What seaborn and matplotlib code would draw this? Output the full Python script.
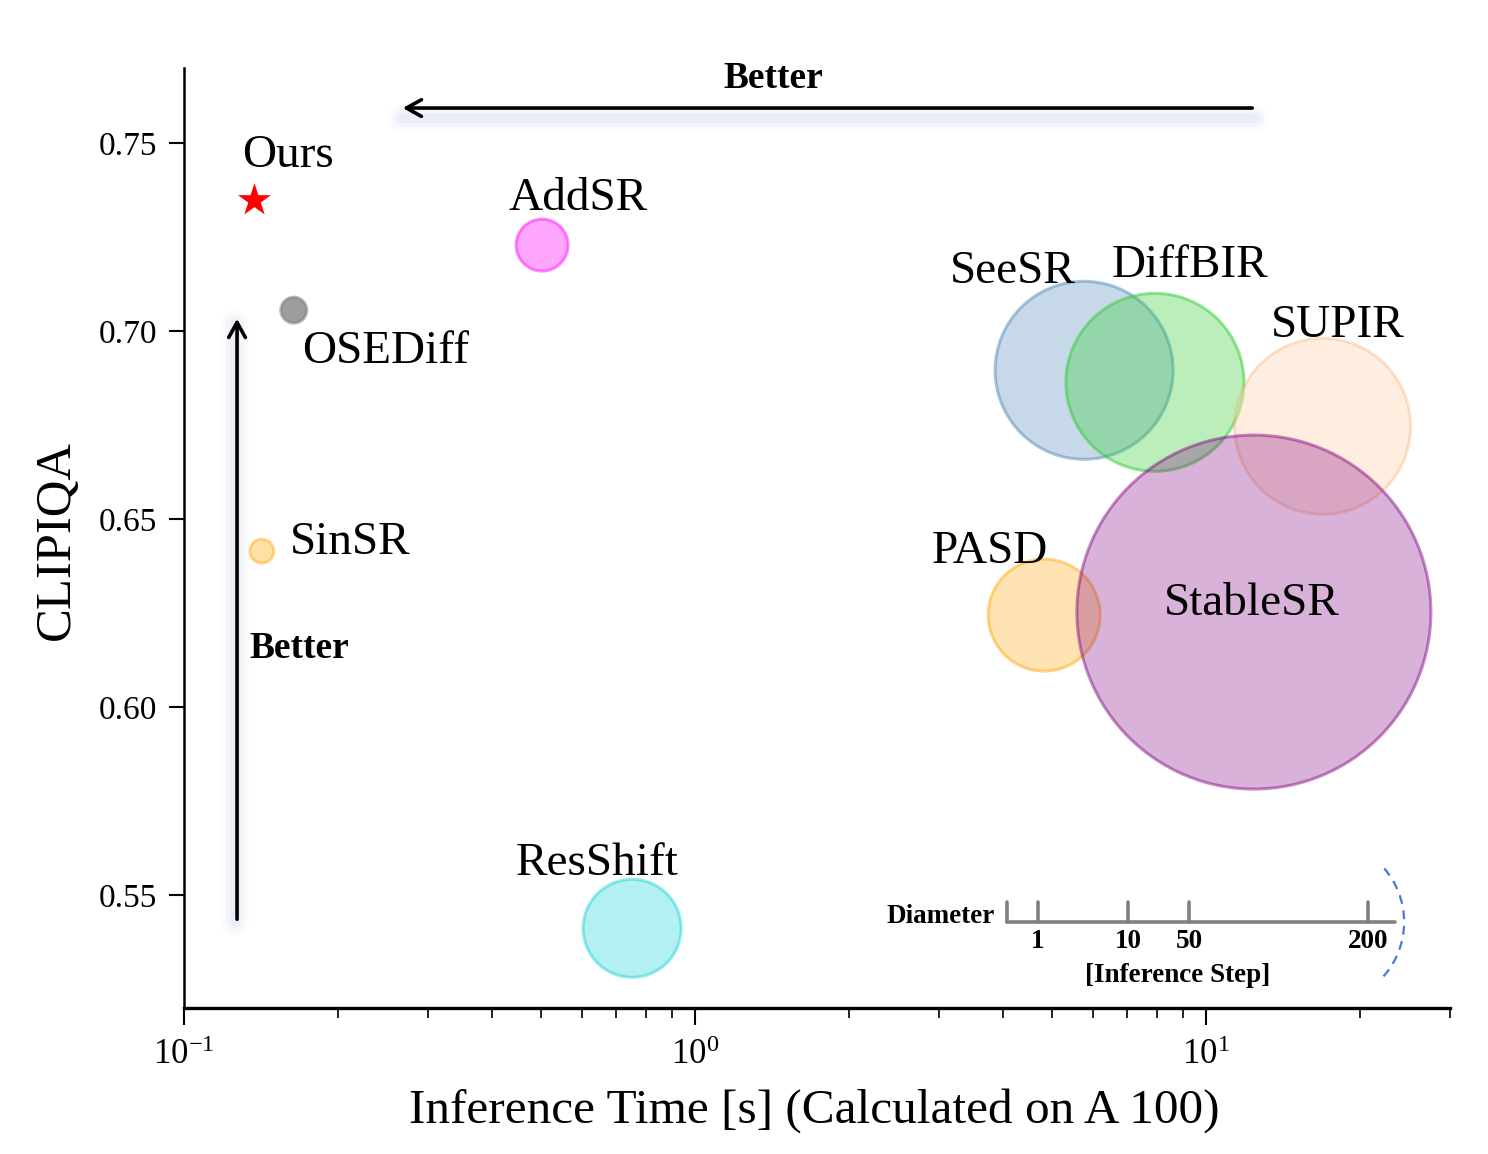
import numpy as np
import pandas as pd
import matplotlib
matplotlib.use("Agg")
import matplotlib.pyplot as plt
import seaborn as sns
from matplotlib.patches import Arc
from matplotlib.colors import to_rgba
from matplotlib.transforms import ScaledTranslation

# ---------------- data ----------------
methods = ["SeeSR", "DiffBIR", "SUPIR", "PASD", "StableSR", "ResShift", "AddSR", "OSEDiff", "SinSR"]
times = [5.77, 7.94, 16.9, 4.82, 12.4, 0.753, 0.502, 0.164, 0.142]
clipiqa = [0.6896, 0.6864, 0.6747, 0.6245, 0.6253, 0.5412, 0.7229, 0.7056, 0.6415]
steps = [50, 50, 50, 20, 200, 15, 4, 1, 1]

ours_name = "Ours"
ours_time = [0.137]
ours_clipiqa = [0.7348]

# label anchor positions (data coords)
label_x = [4.19, 9.30, 18.1, 3.78, 12.3, 0.643, 0.590, 0.2484, 0.2113]
label_y = [0.7168, 0.7184, 0.7024, 0.6423, 0.6285, 0.5593, 0.7362, 0.6955, 0.6449]
ours_label_xy = (0.160, 0.7476)

legend_steps = ["1", "10", "50", "200"]

# ---------------- style ----------------
bubble_diam_px = [178, 178, 176, 112, 354, 98, 52, 26, 24]
face_colors = [("steelblue", 0.30), ("limegreen", 0.33), ("peachpuff", 0.45), ("orange", 0.30),
               ("purple", 0.30), ("darkturquoise", 0.30), ("magenta", 0.35), ("dimgray", 0.65),
               ("orange", 0.35)]
edge_colors = [("steelblue", 0.45), ("limegreen", 0.50), ("sandybrown", 0.30), ("orange", 0.45),
               ("purple", 0.45), ("darkturquoise", 0.40), ("magenta", 0.45), ("gray", 0.55),
               ("orange", 0.40)]

sns.set_theme(style="white")
plt.rcParams["font.family"] = ["Liberation Serif", "DejaVu Serif"]
plt.rcParams["mathtext.fontset"] = "stix"
for k in ["text.color", "axes.labelcolor", "xtick.color", "ytick.color", "axes.edgecolor"]:
    plt.rcParams[k] = "black"

fig = plt.figure(figsize=(14.88, 11.54), dpi=100)
ax = fig.add_axes([184 / 1488, 1 - 1008 / 1154, (1450 - 184) / 1488, (1008 - 68) / 1154])

df = pd.DataFrame({"method": methods, "time": times, "clipiqa": clipiqa, "steps": steps})
px2pt = 72 / 100
sizes = {m: (d * px2pt) ** 2 for m, d in zip(methods, bubble_diam_px)}
palette = {m: c[0] for m, c in zip(methods, face_colors)}

sns.scatterplot(data=df, x="time", y="clipiqa", hue="method", size="method",
                sizes=sizes, palette=palette, legend=False, linewidth=2.2, ax=ax, zorder=3)
coll = ax.collections[0]
coll.set_facecolors([to_rgba(c, a) for c, a in face_colors])
coll.set_edgecolors([to_rgba(c, a) for c, a in edge_colors])
coll.set_alpha(None)

sns.scatterplot(x=ours_time, y=ours_clipiqa, marker="*", s=620, color="red",
                linewidth=0, ax=ax, zorder=5)

ax.set_xscale("log")
ax.set_xlim(0.1, 30)
ax.set_ylim(0.52, 0.77)
ax.set_yticks([0.55, 0.60, 0.65, 0.70, 0.75])
ax.set_yticklabels(["0.55", "0.60", "0.65", "0.70", "0.75"])

for s in ["top", "right"]:
    ax.spines[s].set_visible(False)
ax.spines["bottom"].set_linewidth(2.4)
ax.spines["left"].set_linewidth(1.8)

ax.tick_params(axis="y", which="major", direction="out", length=11, width=1.5,
               labelsize=24, pad=8, left=True, colors="black")
ax.tick_params(axis="x", which="major", direction="out", length=12, width=1.5,
               labelsize=25, pad=10, bottom=True, colors="black")
ax.tick_params(axis="x", which="minor", direction="out", length=7, width=1.2, bottom=True)

ax.set_xlabel("Inference Time [s] (Calculated on A 100)", fontsize=35.5)
ax.set_ylabel("CLIPIQA", fontsize=36.5)
ax.xaxis.label.set_va("center")
ax.yaxis.label.set_va("center")
ax.xaxis.set_label_coords(0.498, -0.109)
ax.yaxis.set_label_coords(-0.1003, 0.498)

# labels (shifted a few pixels down to match visual centring)
down = ax.transData + ScaledTranslation(0, -4 / 100, fig.dpi_scale_trans)
for m, lx, ly in zip(methods, label_x, label_y):
    ax.text(lx, ly, m, fontsize=34, ha="center", va="center", zorder=6, transform=down)
ax.text(ours_label_xy[0], ours_label_xy[1], ours_name, fontsize=34, ha="center", va="center",
        zorder=6, transform=down)

# "Better" arrows with soft glow
glow = "#c3cff0"
T = ax.transAxes
for lw, a in [(20, 0.08), (13, 0.12), (7, 0.16)]:
    ax.plot([0.172, 0.846], [0.947, 0.947], transform=T, color=glow, lw=lw, alpha=a,
            solid_capstyle="round", zorder=1)
    ax.plot([0.0405, 0.0405], [0.0915, 0.728], transform=T, color=glow, lw=lw, alpha=a,
            solid_capstyle="round", zorder=1)
ax.annotate("", xy=(0.1706, 0.9574), xytext=(0.846, 0.9574), xycoords=T, textcoords=T,
            arrowprops=dict(arrowstyle="->,head_length=0.9,head_width=0.5", lw=2.6, color="black"),
            zorder=4)
ax.annotate("", xy=(0.0419, 0.7362), xytext=(0.0419, 0.0915), xycoords=T, textcoords=T,
            arrowprops=dict(arrowstyle="->,head_length=0.9,head_width=0.5", lw=2.6, color="black"),
            zorder=4)
ax.text(0.4652, 0.9890, "Better", transform=T, fontsize=27, fontweight="bold",
        ha="center", va="center")
ax.text(0.0513, 0.382, "Better", transform=T, fontsize=27, fontweight="bold",
        ha="left", va="center")

# diameter legend
ly0 = 0.0915
ax.plot([0.650, 0.9566], [ly0, ly0], transform=T, color="gray", lw=2.6, zorder=4)
tick_x = [0.6746, 0.7457, 0.7938, 0.9352]
ax.plot([0.650, 0.650], [ly0, ly0 + 0.0213], transform=T, color="gray", lw=2.6, zorder=4)
for tx, lab in zip(tick_x, legend_steps):
    ax.plot([tx, tx], [ly0, ly0 + 0.0213], transform=T, color="gray", lw=2.6, zorder=4)
    ax.text(tx, 0.0710, lab, transform=T, fontsize=19.5, fontweight="bold", ha="center", va="center")
ax.text(0.6406, 0.0975, "Diameter", transform=T, fontsize=19.5, fontweight="bold",
        ha="right", va="center")
ax.text(0.785, 0.0350, "[Inference Step]", transform=T, fontsize=19.5, fontweight="bold",
        ha="center", va="center")
arc = Arc((0.899, ly0), 164 / 1266, 164 / 940, theta1=-50, theta2=50, transform=T,
          color="#4a78d8", lw=1.6, ls=(0, (4, 3)), zorder=4)
ax.add_patch(arc)

fig.savefig("out.png", dpi=100, facecolor="white")
